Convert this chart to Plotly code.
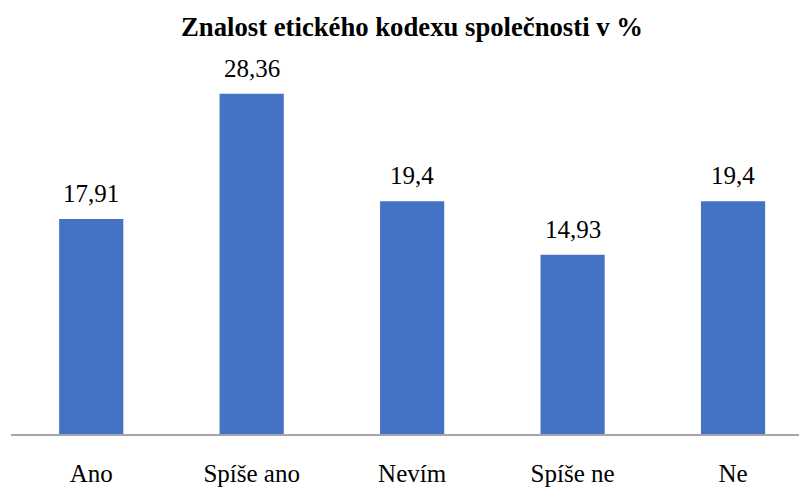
import plotly.graph_objects as go

categories = ["Ano", "Spíše ano", "Nevím", "Spíše ne", "Ne"]
values = [17.91, 28.36, 19.4, 14.93, 19.4]
labels = ["17,91", "28,36", "19,4", "14,93", "19,4"]

FONT = "Liberation Serif"

fig = go.Figure(go.Bar(
    x=categories, y=values,
    marker=dict(color="#4472C4", line=dict(width=0)),
    hoverinfo="skip",
))

for c, v, t in zip(categories, values, labels):
    fig.add_annotation(x=c, y=v, text=t, showarrow=False, yanchor="bottom",
                       yshift=10, font=dict(family=FONT, size=25, color="#000000"))

fig.update_layout(
    width=799, height=488,
    margin=dict(l=11, r=0, t=74, b=54, autoexpand=False),
    paper_bgcolor="white", plot_bgcolor="white",
    font=dict(family=FONT),
    bargap=0.6,
    showlegend=False,
    title=dict(text="<b>Znalost etického kodexu společnosti v %</b>",
               font=dict(family=FONT, size=26.7, color="#000000"),
               xref="container", x=412/799, xanchor="center",
               yref="container", y=1 - 27/488, yanchor="middle"),
    xaxis=dict(range=[-0.5, 4.411], showline=True, linecolor="#A6A6A6", linewidth=1.5,
               ticks="", tickfont=dict(family=FONT, size=25, color="#000000"),
               ticklabelstandoff=16, showgrid=False, zeroline=False, automargin=False),
    yaxis=dict(range=[0, 30], visible=False, showgrid=False, zeroline=False, automargin=False),
)

fig.write_html("out.html", config={"displayModeBar": False},
               post_script="document.body.style.margin='0';document.body.style.overflow='hidden';")
